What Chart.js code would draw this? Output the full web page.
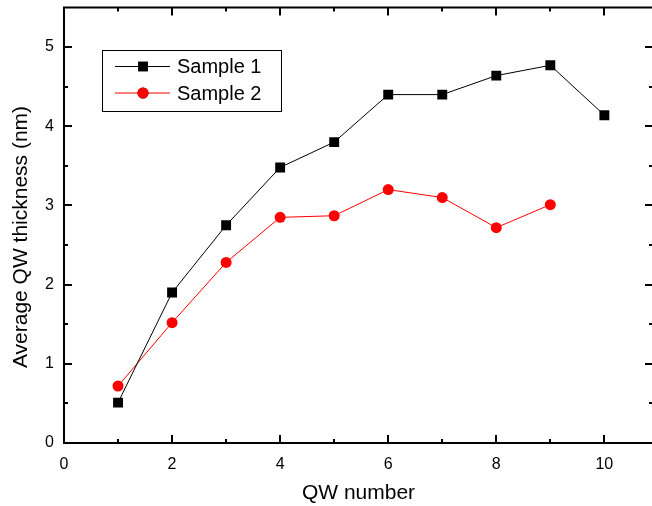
<!DOCTYPE html>
<html lang="en">
<head>
  <meta charset="UTF-8" />
  <title>Average QW thickness</title>
  <script src="https://cdn.jsdelivr.net/npm/chart.js"></script>
  <style>
    html, body { margin: 0; padding: 0; background: #fff; overflow: hidden; }
    #wrap { width: 660px; height: 506px; }
  </style>
</head>
<body>
  <div id="wrap"><canvas id="qwChart"></canvas></div>

  <script>
    // QW index and measured thickness (nm)
    const qwNumbers = [1, 2, 3, 4, 5, 6, 7, 8, 9, 10];
    const sample1 = [0.51, 1.90, 2.75, 3.48, 3.80, 4.40, 4.40, 4.64, 4.77, 4.14];
    const sample2 = [0.72, 1.52, 2.28, 2.85, 2.87, 3.20, 3.10, 2.72, 3.01];

    const xTicks = [0, 2, 4, 6, 8, 10];
    const xMinor = [1, 3, 5, 7, 9];
    const yTicks = [0, 1, 2, 3, 4, 5];
    const yMinor = [0.5, 1.5, 2.5, 3.5, 4.5];

    const FONT = "'Liberation Sans', Arial, sans-serif";

    function toPoints(vals) {
      return vals.map((v, i) => ({ x: qwNumbers[i], y: v }));
    }

    // frame, inward ticks on all four sides, y title and the boxed legend
    const framePlugin = {
      id: 'frame',
      afterDraw(chart) {
        const ctx = chart.ctx;
        const a = chart.chartArea;
        const xs = chart.scales.x, ys = chart.scales.y;
        ctx.save();
        ctx.strokeStyle = '#000';
        ctx.lineWidth = 2;
        ctx.strokeRect(a.left, a.top, a.right - a.left, a.bottom - a.top);

        function xTick(v, len) {
          const px = Math.round(xs.getPixelForValue(v));
          ctx.beginPath();
          ctx.moveTo(px, a.bottom); ctx.lineTo(px, a.bottom - len);
          ctx.moveTo(px, a.top); ctx.lineTo(px, a.top + len);
          ctx.stroke();
        }
        function yTick(v, len) {
          const py = Math.round(ys.getPixelForValue(v));
          ctx.beginPath();
          ctx.moveTo(a.left, py); ctx.lineTo(a.left + len, py);
          ctx.moveTo(a.right, py); ctx.lineTo(a.right - len, py);
          ctx.stroke();
        }
        xTicks.forEach(v => xTick(v, 8));
        xMinor.forEach(v => xTick(v, 4));
        yTicks.forEach(v => yTick(v, 8));
        yMinor.forEach(v => yTick(v, 4));

        // y axis title, sits a bit below the plot centre in the original
        ctx.save();
        ctx.translate(21, 237);
        ctx.rotate(-Math.PI / 2);
        ctx.font = '21px ' + FONT;
        ctx.fillStyle = '#000';
        ctx.textAlign = 'center';
        ctx.textBaseline = 'middle';
        ctx.fillText('Average QW thickness (nm)', 0, 0);
        ctx.restore();

        // legend box
        const bx = 102, by = 50, bw = 179, bh = 61;
        ctx.lineWidth = 1;
        ctx.fillStyle = '#fff';
        ctx.fillRect(bx, by, bw, bh);
        ctx.strokeRect(bx + 0.5, by + 0.5, bw, bh);
        ctx.font = '20px ' + FONT;
        ctx.textBaseline = 'middle';
        chart.data.datasets.forEach((ds, i) => {
          const ry = 66.5 + i * 26.5;
          ctx.strokeStyle = ds.borderColor;
          ctx.lineWidth = 1;
          ctx.beginPath();
          ctx.moveTo(115, ry); ctx.lineTo(170, ry);
          ctx.stroke();
          Chart.helpers.drawPoint(ctx, {
            pointStyle: ds.pointStyle, radius: ds.pointRadius, borderWidth: 0
          }, 143, ry);
          ctx.fillStyle = ds.pointBackgroundColor;
          ctx.fill();
          ctx.fillStyle = '#000';
          ctx.fillText(ds.label, 177, ry + 1);
        });
        ctx.restore();
      }
    };

    new Chart(document.getElementById('qwChart'), {
      type: 'line',
      data: {
        datasets: [
          {
            label: 'Sample 1',
            data: toPoints(sample1),
            borderColor: '#000',
            borderWidth: 1,
            pointStyle: 'rect',
            pointRadius: 7,
            pointBackgroundColor: '#000',
            pointBorderColor: '#000',
            pointBorderWidth: 0
          },
          {
            label: 'Sample 2',
            data: toPoints(sample2),
            borderColor: '#ff0000',
            borderWidth: 1,
            pointStyle: 'circle',
            pointRadius: 5.5,
            pointBackgroundColor: '#ff0000',
            pointBorderColor: '#ff0000',
            pointBorderWidth: 0
          }
        ]
      },
      options: {
        responsive: true,
        maintainAspectRatio: false,
        animation: false,
        layout: { padding: { top: 7.5, right: 6, left: 0, bottom: 0 } },
        plugins: { legend: { display: false }, tooltip: { enabled: false } },
        scales: {
          x: {
            type: 'linear',
            min: 0,
            max: 10.9,
            grid: { display: false, drawTicks: false },
            border: { display: false },
            afterBuildTicks: s => { s.ticks = xTicks.map(v => ({ value: v })); },
            afterFit: s => { s.height = 63; s.paddingLeft = 0; s.paddingRight = 0; },
            ticks: { color: '#000', font: { family: FONT, size: 16 }, padding: 12, maxRotation: 0 },
            title: { display: true, text: 'QW number', color: '#000', font: { family: FONT, size: 21 }, padding: { top: 0, bottom: 0 } }
          },
          y: {
            min: 0,
            max: 5.5,
            grid: { display: false, drawTicks: false },
            border: { display: false },
            afterBuildTicks: s => { s.ticks = yTicks.map(v => ({ value: v })); },
            afterFit: s => { s.width = 64; s.paddingTop = 0; s.paddingBottom = 0; },
            ticks: { color: '#000', font: { family: FONT, size: 16 }, padding: 10 },
            title: { display: false }
          }
        }
      },
      plugins: [framePlugin]
    });
  </script>
</body>
</html>
